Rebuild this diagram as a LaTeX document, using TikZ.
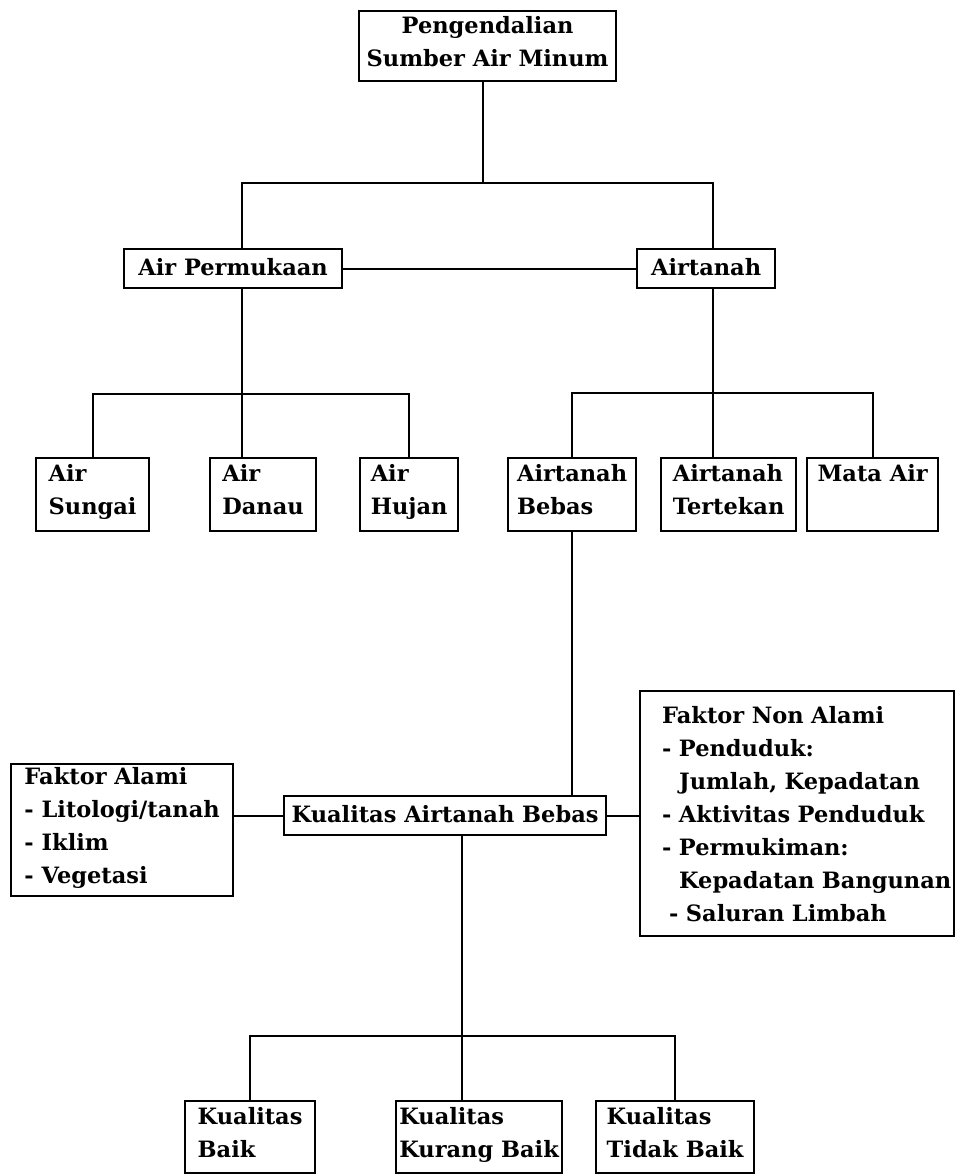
\documentclass[tikz,border=0pt]{standalone}
\usepackage{fontspec}
\setmainfont{DejaVu Serif}
\begin{document}
\begin{tikzpicture}[x=1pt,y=-1pt]
\tikzstyle{every node}=[font=\fontsize{22.5}{33}\selectfont\bfseries]
\tikzstyle{box}=[draw,line width=2.2pt,inner sep=0pt,anchor=north west,align=left,execute at begin node={\strut},execute at end node={\rule[-6pt]{0pt}{6pt}}]
\tikzstyle{link}=[line width=2pt]
\useasboundingbox (0,0) rectangle (955,1174);

\node[box,align=center,minimum width=257pt,minimum height=70pt,execute at begin node={},execute at end node={}] (SAM) at (358,10) {Pengendalian\\Sumber Air Minum};
\node[box,align=center,minimum width=218pt,minimum height=39pt] (AP) at (123,248) {Air Permukaan};
\node[box,align=center,minimum width=138pt,minimum height=39pt] (AT) at (636,248) {Airtanah};
\node[box,minimum width=113pt,minimum height=73pt] (AS) at (35,457) {Air\\Sungai};
\node[box,minimum width=106pt,minimum height=73pt] (AD) at (209,457) {Air\\Danau};
\node[box,minimum width=98pt,minimum height=73pt] (AH) at (359,457) {Air\\Hujan};
\node[box,minimum width=128pt,minimum height=73pt] (AB) at (507,457) {Airtanah\\Bebas};
\node[box,minimum width=135pt,minimum height=73pt] (ATT) at (660,457) {Airtanah\\Tertekan};
\node[box,minimum width=131pt,minimum height=73pt] (MA) at (806,457) {Mata Air\\};
\node[box,align=center,minimum width=322pt,minimum height=39pt] (K) at (283,795) {Kualitas Airtanah Bebas};
\node[box,minimum width=222pt,minimum height=132pt] (FA) at (10,763) {Faktor Alami\\- Litologi/tanah\\- Iklim\\- Vegetasi};
\node[box,text width=270pt,inner xsep=22pt,minimum height=245pt] (FN) at (639,690) {Faktor Non Alami\\- Penduduk:\\\hspace*{17pt}Jumlah, Kepadatan\\- Aktivitas Penduduk\\- Permukiman:\\\hspace*{17pt}\mbox{Kepadatan Bangunan}\\\hspace*{7pt}- Saluran Limbah};
\node[box,minimum width=130pt,minimum height=72pt] (KB) at (184,1100) {Kualitas\\Baik};
\node[box,minimum width=166pt,minimum height=72pt] (KK) at (395,1100) {Kualitas\\Kurang Baik};
\node[box,minimum width=158pt,minimum height=72pt] (KT) at (595,1100) {Kualitas\\Tidak Baik};

\coordinate (jt) at (483,183);
\coordinate (ja) at (242,394);
\coordinate (jb) at (713,393);
\coordinate (jc) at (462,1036);

\draw[link] (SAM.south -| jt) -- (jt);
\draw[link] (AP.north -| ja) |- (jt) -| (AT.north -| jb);
\draw[link] (AP.east) -- (AT.west);
\draw[link] (AP.south -| ja) -- (ja);
\draw[link] (AS.north) |- (ja) -| (AH.north);
\draw[link] (AD.north -| ja) -- (ja);
\draw[link] (AT.south -| jb) -- (jb);
\draw[link] (AB.north) |- (jb) -| (MA.north);
\draw[link] (ATT.north -| jb) -- (jb);
\draw[link] (AB.south) -- (AB.south |- K.north);
\draw[link] (K.west) -- (K.west -| FA.east);
\draw[link] (K.east) -- (K.east -| FN.west);
\draw[link] (K.south -| jc) -- (jc);
\draw[link] (KB.north) |- (jc) -| (KT.north);
\draw[link] (KK.north -| jc) -- (jc);
\end{tikzpicture}
\end{document}
